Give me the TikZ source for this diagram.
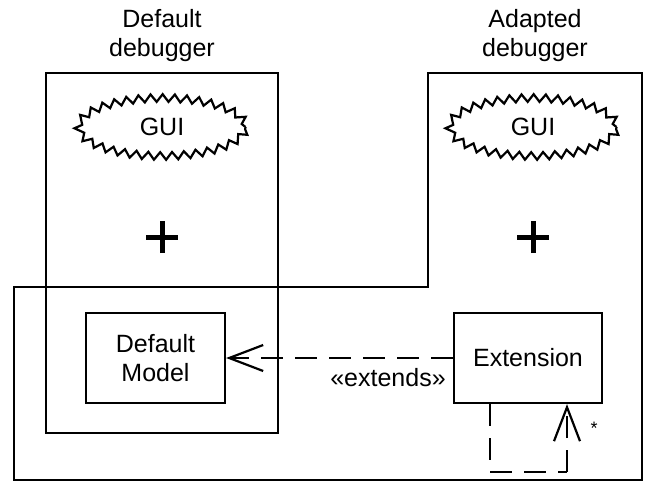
\documentclass[tikz,border=0pt]{standalone}
\usepackage{fontspec}
\setmainfont{Liberation Sans}
\usetikzlibrary{arrows.meta,shapes.geometric,decorations.pathmorphing}
\begin{document}
\begin{tikzpicture}[x=1pt,y=-1pt,
  line width=2.2pt,
  every node/.style={font=\fontsize{25}{29}\selectfont},
  box/.style={draw,rectangle,inner sep=0pt,align=center},
  cloud/.style={draw,ellipse,inner sep=0pt,minimum width=167pt,minimum height=58pt,
    decorate,decoration={zigzag,segment length=12pt,amplitude=3.8pt}},
  plusbar/.style={line width=5pt},
  dep/.style={dash pattern=on 22pt off 12pt},
  openarrow/.style={-{Straight Barb[length=34pt,width=26pt,line width=2.2pt]}}
]
\useasboundingbox (0,0) rectangle (650,482);
% titles
\node[align=center] (t1) at (162,36) {Default\\debugger};
\node[align=center] (t2) at (535,36) {Adapted\\debugger};
% default debugger box
\node[box,minimum width=232pt,minimum height=360pt] (dd) at (162,253) {};
% adapted debugger outline
\coordinate (a1) at (14,287);
\coordinate (a2) at (428,287);
\coordinate (a3) at (428,73);
\coordinate (a4) at (642,73);
\coordinate (a5) at (642,480);
\coordinate (a6) at (14,480);
\draw (a1) -- (a2) -- (a3) -- (a4) -- (a5) -- (a6) -- cycle;
% GUI clouds
\node[cloud] (g1) at (162,127) {GUI};
\node[cloud] (g2) at (533,127) {GUI};
% plus signs
\coordinate (p1) at (162,237);
\coordinate (p2) at (533,237);
\draw[plusbar] ([xshift=-16pt]p1) -- ([xshift=16pt]p1);
\draw[plusbar] ([yshift=-16pt]p1) -- ([yshift=16pt]p1);
\draw[plusbar] ([xshift=-16pt]p2) -- ([xshift=16pt]p2);
\draw[plusbar] ([yshift=-16pt]p2) -- ([yshift=16pt]p2);
% model and extension
\node[box,fill=white,minimum width=139pt,minimum height=90pt] (dm) at (155.5,358) {Default\\Model};
\node[box,fill=white,minimum width=148pt,minimum height=90pt] (ext) at (528,358) {Extension};
% extends dependency
\draw[dep,openarrow] (ext.west) -- (dm.east);
\node (lbl) at (388,378) {«extends»};
% self association
\coordinate (s1) at (490,472);
\coordinate (s2) at (567,472);
\draw[dep] (ext.south -| s1) -- (s1) -- (s2);
\draw[dep,openarrow] (s2) -- (ext.south -| s2);
\node[font=\fontsize{18}{20}\selectfont] (star) at (594,428) {*};
\end{tikzpicture}
\end{document}
